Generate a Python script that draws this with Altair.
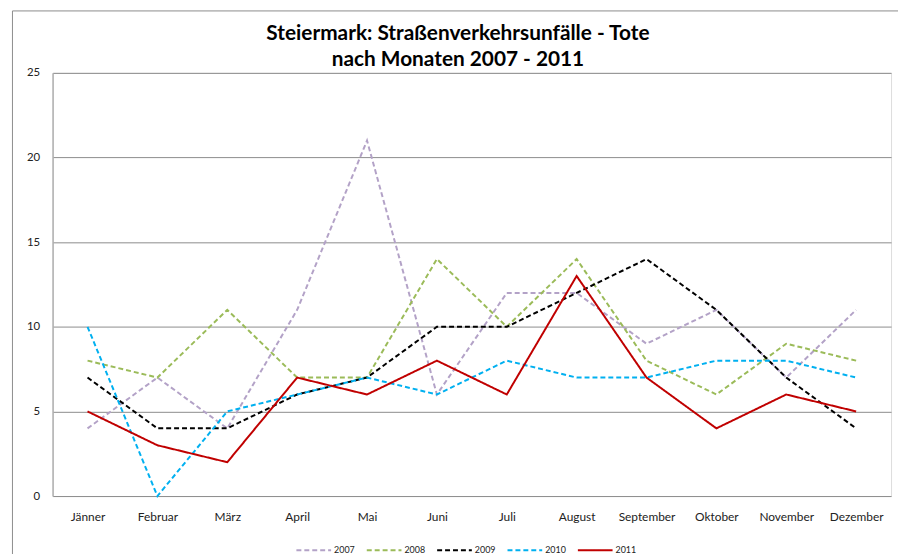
import altair as alt
import pandas as pd

months = ["Jänner", "Februar", "März", "April", "Mai", "Juni", "Juli",
          "August", "September", "Oktober", "November", "Dezember"]
years = ["2007", "2008", "2009", "2010", "2011"]
v2007 = [4, 7, 4, 11, 21, 6, 12, 12, 9, 11, 7, 11]
v2008 = [8, 7, 11, 7, 7, 14, 10, 14, 8, 6, 9, 8]
v2009 = [7, 4, 4, 6, 7, 10, 10, 12, 14, 11, 7, 4]
v2010 = [10, 0, 5, 6, 7, 6, 8, 7, 7, 8, 8, 7]
v2011 = [5, 3, 2, 7, 6, 8, 6, 13, 7, 4, 6, 5]
colors = ["#b3a2c7", "#9bbb59", "#000000", "#00b0f0", "#c00000"]
dashes = [[5, 3], [5, 3], [5, 3], [5, 3], [1, 0]]
title_lines = ["Steiermark: Straßenverkehrsunfälle - Tote", "nach Monaten 2007 - 2011"]

series = [v2007, v2008, v2009, v2010, v2011]
rows = []
for y, vals in zip(years, series):
    for m, v in zip(months, vals):
        rows.append({"Monat": m, "Jahr": y, "Tote": v})
df = pd.DataFrame(rows)

W, H = 846, 427
FONT = "Lato"

leg = dict(title=None, orient="none", direction="horizontal",
           legendX=245, legendY=463,
           symbolType="stroke", symbolSize=1225,
           symbolStrokeWidth=2, labelFontSize=9,
           labelOffset=2, columnPadding=8,
           labelColor="#222")

lines = alt.Chart(df).mark_line(strokeWidth=2).encode(
    x=alt.X("Monat:N", sort=months, title=None,
            scale=alt.Scale(type="point", padding=0.5),
            axis=alt.Axis(labelAngle=0, ticks=False, domain=False, grid=False,
                          labelPadding=16, labelFontSize=12, labelColor="#222")),
    y=alt.Y("Tote:Q", title=None,
            scale=alt.Scale(domain=[0, 25], nice=False, zero=True),
            axis=alt.Axis(values=[0, 5, 10, 15, 20, 25], ticks=False,
                          grid=True, gridColor="#8c8c8c", gridWidth=1,
                          domain=True, domainColor="#b0b0b0", domainWidth=1.5,
                          labelPadding=13, labelFontSize=11.5, labelColor="#222")),
    color=alt.Color("Jahr:N", scale=alt.Scale(domain=years, range=colors),
                    legend=alt.Legend(**leg)),
    strokeDash=alt.StrokeDash("Jahr:N", scale=alt.Scale(domain=years, range=dashes),
                              legend=alt.Legend(**leg)),
    order=alt.Order("Jahr:N"),
)

frame_df = pd.DataFrame({"k": [0]})
frame_left = alt.Chart(frame_df).mark_rule(color="#8c8c8c", strokeWidth=1).encode(
    x=alt.value(-40.5), y=alt.value(-62.5), y2=alt.value(700))
frame_top = alt.Chart(frame_df).mark_rule(color="#8c8c8c", strokeWidth=1).encode(
    x=alt.value(-40.5), x2=alt.value(1000), y=alt.value(-62.5))

title1 = alt.Chart(frame_df).mark_text(
    text=title_lines[0], font=FONT, fontSize=21, fontWeight="bold", color="#000",
    align="center", baseline="alphabetic").encode(x=alt.value(409), y=alt.value(-33))
title2 = alt.Chart(frame_df).mark_text(
    text=title_lines[1], font=FONT, fontSize=21, fontWeight="bold", color="#000",
    align="center", baseline="alphabetic").encode(x=alt.value(409), y=alt.value(-7))

chart = alt.layer(frame_left, frame_top, title1, title2, lines).properties(
    width=W, height=H,
    autosize=alt.AutoSizeParams(type="none"),
    padding={"left": 45, "top": 63, "right": 7, "bottom": 56},
).configure_view(stroke=None).configure(font=FONT).configure_axis(
    labelFont=FONT).configure_legend(labelFont=FONT)

chart.save("out.html", embed_options={"renderer": "svg", "actions": False})
